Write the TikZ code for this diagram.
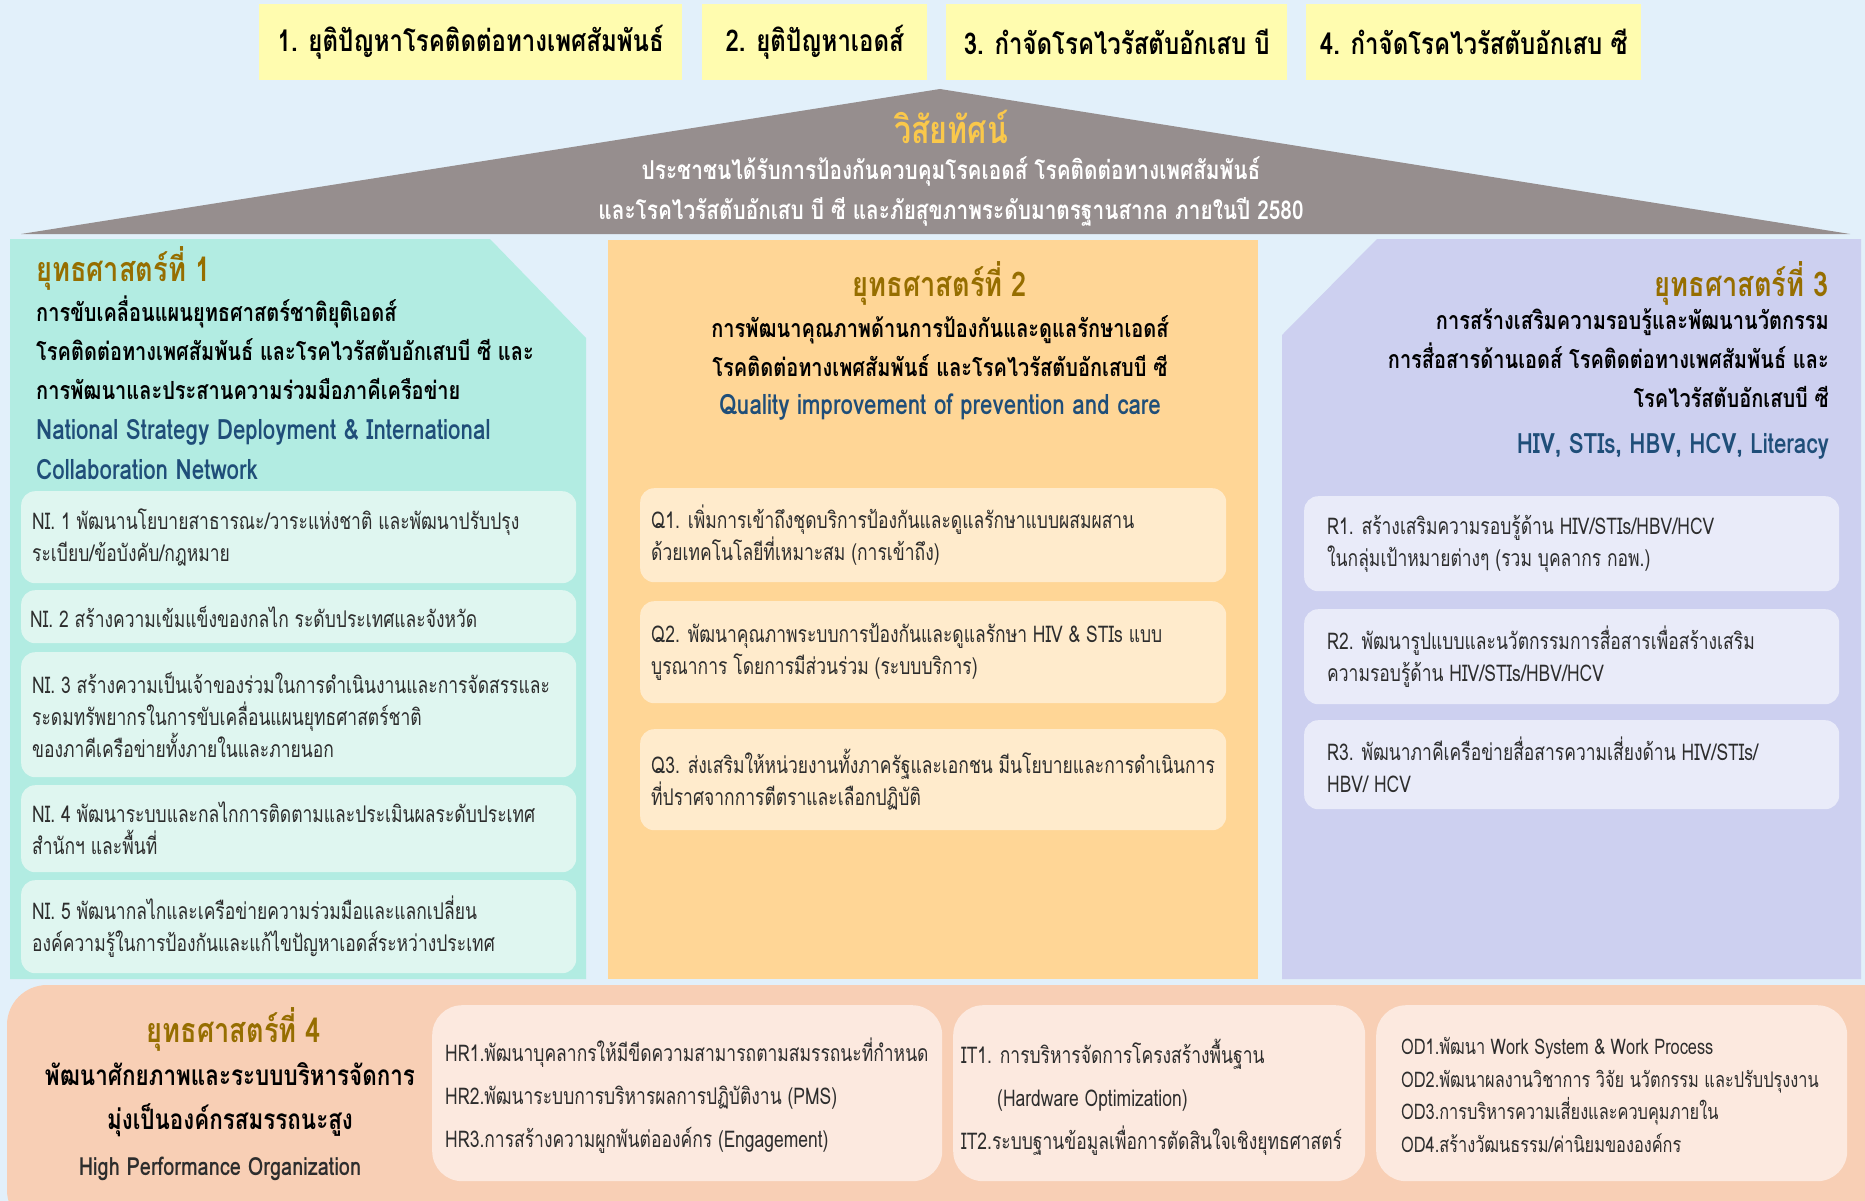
\documentclass[tikz,border=0pt]{standalone}
\usepackage{fontspec}
\newfontfamily\thfont[Script=Thai,FakeStretch=0.8]{Loma}
\newfontfamily\thitem[Script=Thai,FakeStretch=0.76]{Loma}
\usetikzlibrary{positioning}
\definecolor{bgblue}{RGB}{226,240,250}
\definecolor{topyellow}{RGB}{255,252,175}
\definecolor{roofgray}{RGB}{150,142,142}
\definecolor{visionyellow}{RGB}{250,200,75}
\definecolor{tealpanel}{RGB}{178,236,226}
\definecolor{tealbox}{RGB}{223,246,240}
\definecolor{orangepanel}{RGB}{255,214,150}
\definecolor{orangebox}{RGB}{255,235,204}
\definecolor{lavpanel}{RGB}{205,208,240}
\definecolor{lavbox}{RGB}{233,235,249}
\definecolor{salmon}{RGB}{248,207,181}
\definecolor{salmonbox}{RGB}{252,233,223}
\definecolor{headgold}{RGB}{150,110,0}
\definecolor{engblue}{RGB}{31,78,121}
\definecolor{textdark}{RGB}{45,45,45}
\tikzset{
  topbox/.style={fill=topyellow, inner sep=0pt, anchor=north west, text=black,
    font=\thfont\bfseries\fontsize{30}{36}\selectfont},
  headtxt/.style={inner sep=0pt, text=headgold, font=\thfont\bfseries\fontsize{34}{40}\selectfont},
  desctxt/.style={inner sep=0pt, text=black, font=\thfont\bfseries\fontsize{25}{39}\selectfont},
  engtxt/.style={inner sep=0pt, text=engblue, font=\thfont\bfseries\fontsize{28}{40}\selectfont},
  itembox/.style={rounded corners=14pt, inner sep=0pt, anchor=north west},
  itemtxt/.style={inner sep=0pt, anchor=west, align=left, text=textdark,
    font=\thitem\fontsize{23}{32}\selectfont},
  btmtxt/.style={inner sep=0pt, anchor=west, align=left, text=textdark,
    font=\thitem\fontsize{23}{43}\selectfont},
}
\begin{document}
\begin{tikzpicture}[x=1pt,y=-1pt]
\useasboundingbox (0,0) rectangle (1865,1201);
\fill[bgblue] (0,0) rectangle (1865,1201);
% top goal boxes
\node[topbox, minimum width=423, minimum height=76] (g1) at (259,4) {1. ยุติปัญหาโรคติดต่อทางเพศสัมพันธ์};
\node[topbox, minimum width=225, minimum height=76] (g2) at (702,4) {2. ยุติปัญหาเอดส์};
\node[topbox, minimum width=341, minimum height=76] (g3) at (946,4) {3. กำจัดโรคไวรัสตับอักเสบ บี};
\node[topbox, minimum width=335, minimum height=76] (g4) at (1306,4) {4. กำจัดโรคไวรัสตับอักเสบ ซี};
% roof
\fill[roofgray] (21,234) -- (940,89) -- (1850,234) -- cycle;
\node[inner sep=0pt, text=visionyellow, font=\thfont\bfseries\fontsize{38}{44}\selectfont] (vt) at (951,127) {วิสัยทัศน์};
\node[inner sep=0pt, text=white, font=\thfont\bfseries\fontsize{26}{40}\selectfont, align=center] (vl) at (951,192)
  {ประชาชนได้รับการป้องกันควบคุมโรคเอดส์ โรคติดต่อทางเพศสัมพันธ์\\และโรคไวรัสตับอักเสบ บี ซี และภัยสุขภาพระดับมาตรฐานสากล ภายในปี 2580};
% strategy 1 panel
\fill[tealpanel] (10,239) -- (490,239) -- (586,338) -- (586,979) -- (10,979) -- cycle;
\node[headtxt, anchor=west] (s1h) at (36,268) {ยุทธศาสตร์ที่ 1};
\node[desctxt, anchor=north west, align=left] (s1d) at (36,296) {การขับเคลื่อนแผนยุทธศาสตร์ชาติยุติเอดส์\\โรคติดต่อทางเพศสัมพันธ์ และโรคไวรัสตับอักเสบบี ซี และ\\การพัฒนาและประสานความร่วมมือภาคีเครือข่าย};
\node[engtxt, anchor=west, align=left] (s1e) at (36,450) {National Strategy Deployment \& International\\Collaboration Network};
\node[itembox, fill=tealbox, minimum width=555, minimum height=92] (ni1) at (21,491) {};
\node[itemtxt] (ni1t) at ([xshift=11pt]ni1.west) {NI. 1 พัฒนานโยบายสาธารณะ/วาระแห่งชาติ และพัฒนาปรับปรุง\\ระเบียบ/ข้อบังคับ/กฎหมาย};
\node[itembox, fill=tealbox, minimum width=555, minimum height=53] (ni2) at (21,590) {};
\node[itemtxt] (ni2t) at ([xshift=9pt]ni2.west) {NI. 2 สร้างความเข้มแข็งของกลไก ระดับประเทศและจังหวัด};
\node[itembox, fill=tealbox, minimum width=555, minimum height=125] (ni3) at (21,652) {};
\node[itemtxt] (ni3t) at ([xshift=11pt]ni3.west) {NI. 3 สร้างความเป็นเจ้าของร่วมในการดำเนินงานและการจัดสรรและ\\ระดมทรัพยากรในการขับเคลื่อนแผนยุทธศาสตร์ชาติ\\ของภาคีเครือข่ายทั้งภายในและภายนอก};
\node[itembox, fill=tealbox, minimum width=555, minimum height=87] (ni4) at (21,785) {};
\node[itemtxt] (ni4t) at ([xshift=11pt]ni4.west) {NI. 4 พัฒนาระบบและกลไกการติดตามและประเมินผลระดับประเทศ\\สำนักฯ และพื้นที่};
\node[itembox, fill=tealbox, minimum width=555, minimum height=93] (ni5) at (21,880) {};
\node[itemtxt] (ni5t) at ([xshift=11pt]ni5.west) {NI. 5 พัฒนากลไกและเครือข่ายความร่วมมือและแลกเปลี่ยน\\องค์ความรู้ในการป้องกันและแก้ไขปัญหาเอดส์ระหว่างประเทศ};
% strategy 2 panel
\fill[orangepanel] (608,240) rectangle (1258,979);
\node[headtxt] (s2h) at (940,283) {ยุทธศาสตร์ที่ 2};
\node[desctxt, align=center] (s2d) at (940,346) {การพัฒนาคุณภาพด้านการป้องกันและดูแลรักษาเอดส์\\โรคติดต่อทางเพศสัมพันธ์ และโรคไวรัสตับอักเสบบี ซี};
\node[engtxt] (s2e) at (940,407) {Quality improvement of prevention and care};
\node[itembox, fill=orangebox, minimum width=586, minimum height=94] (q1) at (640,488) {};
\node[itemtxt] (q1t) at ([xshift=11pt]q1.west) {Q1. เพิ่มการเข้าถึงชุดบริการป้องกันและดูแลรักษาแบบผสมผสาน\\ด้วยเทคโนโลยีที่เหมาะสม (การเข้าถึง)};
\node[itembox, fill=orangebox, minimum width=586, minimum height=102] (q2) at (640,601) {};
\node[itemtxt] (q2t) at ([xshift=11pt]q2.west) {Q2. พัฒนาคุณภาพระบบการป้องกันและดูแลรักษา HIV \& STIs แบบ\\บูรณาการ โดยการมีส่วนร่วม (ระบบบริการ)};
\node[itembox, fill=orangebox, minimum width=586, minimum height=101] (q3) at (640,729) {};
\node[itemtxt] (q3t) at ([xshift=11pt]q3.west) {Q3. ส่งเสริมให้หน่วยงานทั้งภาครัฐและเอกชน มีนโยบายและการดำเนินการ\\ที่ปราศจากการตีตราและเลือกปฏิบัติ};
% strategy 3 panel
\fill[lavpanel] (1377,239) -- (1861,239) -- (1861,979) -- (1282,979) -- (1282,335) -- cycle;
\node[headtxt, anchor=east] (s3h) at (1829,283) {ยุทธศาสตร์ที่ 3};
\node[desctxt, anchor=north east, align=right] (s3d) at (1829,308) {การสร้างเสริมความรอบรู้และพัฒนานวัตกรรม\\การสื่อสารด้านเอดส์ โรคติดต่อทางเพศสัมพันธ์ และ\\โรคไวรัสตับอักเสบบี ซี};
\node[engtxt, anchor=east] (s3e) at (1829,446) {HIV, STIs, HBV, HCV, Literacy};
\node[itembox, fill=lavbox, minimum width=535, minimum height=95] (r1) at (1304,496) {};
\node[itemtxt] (r1t) at ([xshift=23pt]r1.west) {R1. สร้างเสริมความรอบรู้ด้าน HIV/STIs/HBV/HCV\\ในกลุ่มเป้าหมายต่างๆ (รวม บุคลากร กอพ.)};
\node[itembox, fill=lavbox, minimum width=535, minimum height=95] (r2) at (1304,609) {};
\node[itemtxt] (r2t) at ([xshift=23pt]r2.west) {R2. พัฒนารูปแบบและนวัตกรรมการสื่อสารเพื่อสร้างเสริม\\ความรอบรู้ด้าน HIV/STIs/HBV/HCV};
\node[itembox, fill=lavbox, minimum width=535, minimum height=89] (r3) at (1304,720) {};
\node[itemtxt] (r3t) at ([xshift=23pt]r3.west) {R3. พัฒนาภาคีเครือข่ายสื่อสารความเสี่ยงด้าน HIV/STIs/\\HBV/ HCV};
% strategy 4 strip
\fill[salmon, rounded corners=40pt] (7,985) rectangle (1905,1230);
\node[headtxt] (s4h) at (234,1029) {ยุทธศาสตร์ที่ 4};
\node[desctxt, align=center, font=\thfont\bfseries\fontsize{28}{44}\selectfont] (s4d) at (230,1100) {พัฒนาศักยภาพและระบบบริหารจัดการ\\มุ่งเป็นองค์กรสมรรถนะสูง};
\node[inner sep=0pt, text=textdark, font=\thfont\bfseries\fontsize{25}{30}\selectfont] (s4e) at (220,1169) {High Performance Organization};
\node[itembox, fill=salmonbox, rounded corners=30pt, minimum width=510, minimum height=176] (hr) at (432,1005) {};
\node[btmtxt] (hrt) at ([xshift=13pt,yshift=-2pt]hr.west) {HR1.พัฒนาบุคลากรให้มีขีดความสามารถตามสมรรถนะที่กำหนด\\HR2.พัฒนาระบบการบริหารผลการปฏิบัติงาน (PMS)\\HR3.การสร้างความผูกพันต่อองค์กร (Engagement)};
\node[itembox, fill=salmonbox, rounded corners=30pt, minimum width=412, minimum height=176] (it) at (953,1005) {};
\node[btmtxt] (itt) at ([xshift=8pt,yshift=-4pt]it.west) {IT1. การบริหารจัดการโครงสร้างพื้นฐาน\\\hspace*{36pt}(Hardware Optimization)\\IT2.ระบบฐานข้อมูลเพื่อการตัดสินใจเชิงยุทธศาสตร์};
\node[itembox, fill=salmonbox, rounded corners=30pt, minimum width=471, minimum height=176] (od) at (1376,1005) {};
\node[btmtxt, font=\thitem\fontsize{21.5}{32.5}\selectfont] (odt) at ([xshift=25pt,yshift=-2pt]od.west) {OD1.พัฒนา Work System \& Work Process\\OD2.พัฒนาผลงานวิชาการ วิจัย นวัตกรรม และปรับปรุงงาน\\OD3.การบริหารความเสี่ยงและควบคุมภายใน\\OD4.สร้างวัฒนธรรม/ค่านิยมขององค์กร};
\end{tikzpicture}
\end{document}
